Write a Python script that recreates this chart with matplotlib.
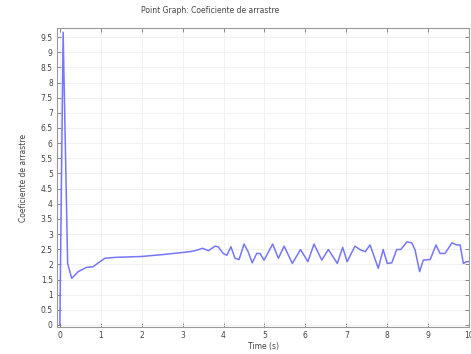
import matplotlib.pyplot as plt
import numpy as np

# drag coefficient history
time_s = [0.0, 0.08, 0.19, 0.29, 0.45, 0.65, 0.81, 0.94, 1.1, 1.34, 2.0, 2.57,
          3.18, 3.3, 3.49, 3.63, 3.79, 3.87, 3.99, 4.08, 4.18, 4.28, 4.38, 4.5,
          4.6, 4.7, 4.81, 4.89, 4.99, 5.2, 5.34, 5.48, 5.68, 5.88, 6.06, 6.21,
          6.4, 6.56, 6.78, 6.91, 7.02, 7.21, 7.33, 7.46, 7.58, 7.78, 7.9, 8.0,
          8.11, 8.23, 8.33, 8.48, 8.6, 8.68, 8.79, 8.88, 9.05, 9.19, 9.29, 9.41,
          9.58, 9.7, 9.78, 9.86, 9.94, 10.0]
drag_coef = [0.0, 9.66, 2.03, 1.54, 1.76, 1.9, 1.92, 2.05, 2.2, 2.23, 2.26, 2.33,
             2.42, 2.45, 2.53, 2.45, 2.6, 2.58, 2.36, 2.3, 2.58, 2.2, 2.16, 2.67,
             2.42, 2.05, 2.36, 2.36, 2.14, 2.67, 2.2, 2.6, 2.03, 2.49, 2.09, 2.67,
             2.14, 2.49, 2.03, 2.56, 2.09, 2.6, 2.49, 2.42, 2.64, 1.87, 2.49, 2.03,
             2.05, 2.49, 2.49, 2.74, 2.71, 2.47, 1.76, 2.14, 2.16, 2.64, 2.36, 2.36,
             2.71, 2.64, 2.64, 2.03, 2.09, 2.09]

x_ticks = np.arange(0, 11, 1)
y_ticks = np.arange(0, 10, 0.5)
y_labels = [f"{v:g}" for v in y_ticks]

fig = plt.figure(figsize=(4.71, 3.54), dpi=100)
ax = fig.add_axes([0.121, 0.076, 0.875, 0.845])

ax.plot(time_s, drag_coef, color="#7676f8", lw=1.1)

ax.set_xlim(-0.07, 10)
ax.set_ylim(-0.07, 9.8)
ax.set_xticks(x_ticks)
ax.set_yticks(y_ticks)
ax.set_yticklabels(y_labels)
ax.tick_params(direction="in", length=3, width=0.6, color="#777777",
               labelsize=5.5, labelcolor="#444444", pad=3,
               top=True, right=True)
ax.grid(True, color="#efefef", lw=0.6)
for s in ax.spines.values():
    s.set_color("#999999")
    s.set_linewidth(0.8)

ax.set_xlabel("Time (s)", fontsize=5.5, color="#444444", labelpad=1)
ax.set_ylabel("Coeficiente de arrastre", fontsize=5.5, color="#444444", labelpad=9)
fig.text(0.446, 0.97, "Point Graph: Coeficiente de arrastre", ha="center",
         va="center", fontsize=5.5, color="#444444")

fig.savefig("out.png", dpi=100)
